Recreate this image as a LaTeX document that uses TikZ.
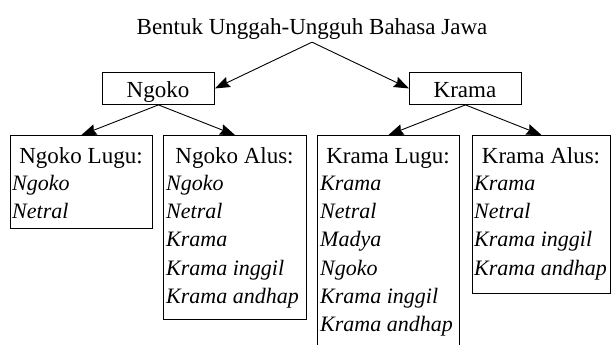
\documentclass[tikz,border=0pt]{standalone}
\usepackage{fontspec}
\setmainfont{Liberation Serif}
\usetikzlibrary{arrows.meta,calc}
\begin{document}
\begin{tikzpicture}[x=1pt,y=-1pt,
  font=\fontsize{23}{28}\selectfont,
  box/.style={draw, line width=0.9pt, inner sep=0pt, anchor=north west},
  lbl/.style={inner sep=0pt, anchor=base},
  item/.style={inner sep=0pt, anchor=base west, font=\fontsize{22}{28}\selectfont\itshape},
  arr/.style={line width=0.9pt, -{Stealth[length=15pt,width=11pt,inset=2pt]}}]
\useasboundingbox (0,0) rectangle (611,345);
% title
\node[lbl] (title) at (312,35) {Bentuk Unggah-Ungguh Bahasa Jawa};
\coordinate (apex) at ([yshift=-2pt]title.south);
% level 1
\node[box, minimum width=112pt, minimum height=32pt] (ngoko) at (102,72) {};
\node[lbl] (ngokot) at (158,98) {Ngoko};
\node[box, minimum width=112pt, minimum height=32pt] (krama) at (409,72) {};
\node[lbl] (kramat) at (465,98) {Krama};
% level 2 boxes
\node[box, minimum width=142pt, minimum height=93pt] (nlugu) at (10,135) {};
\node[box, minimum width=143pt, minimum height=184pt] (nalus) at (163,135) {};
\node[box, minimum width=142pt, minimum height=230pt] (klugu) at (317,135) {};
\node[box, minimum width=138pt, minimum height=158pt] (kalus) at (472,135) {};
% headers
\node[lbl] (nluguh) at (81,163) {Ngoko Lugu:};
\node[lbl] (nalush) at (234.5,163) {Ngoko Alus:};
\node[lbl] (kluguh) at (388,163) {Krama Lugu:};
\node[lbl] (kalush) at (541,163) {Krama Alus:};
% items
\foreach \t [count=\i] in {Ngoko,Netral}
  \node[item] (nl\i) at (12,162+28.3*\i) {\t};
\foreach \t [count=\i] in {Ngoko,Netral,Krama,Krama inggil,Krama andhap}
  \node[item] (na\i) at (166,162+28.3*\i) {\t};
\foreach \t [count=\i] in {Krama,Netral,Madya,Ngoko,Krama inggil,Krama andhap}
  \node[item] (kl\i) at (320,162+28.3*\i) {\t};
\foreach \t [count=\i] in {Krama,Netral,Krama inggil,Krama andhap}
  \node[item] (ka\i) at (474,162+28.3*\i) {\t};
% connectors
\draw[arr] (apex) -- (ngoko.east);
\draw[arr] (apex) -- (krama.west);
\draw[arr] (ngoko.south) -- (nlugu.north);
\draw[arr] (ngoko.south) -- (nalus.north);
\draw[arr] (krama.south) -- (klugu.north);
\draw[arr] (krama.south) -- (kalus.north);
\end{tikzpicture}
\end{document}
